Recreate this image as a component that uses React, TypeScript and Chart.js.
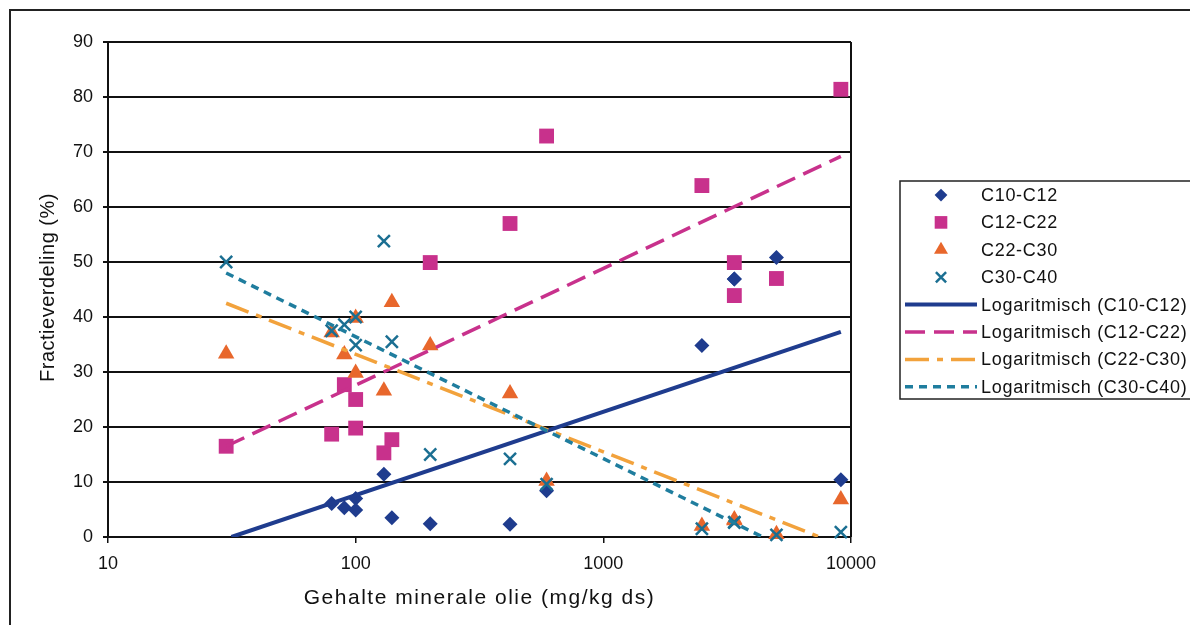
import React, { useEffect, useRef } from "react";
import { Chart, registerables } from "chart.js";
import { drawPoint } from "chart.js/helpers";

Chart.register(...registerables);

// ---- Data ----
const sampleX = [30, 80, 90, 100, 100, 130, 140, 200, 420, 590, 2500, 3380, 3380, 5000, 9100];
const c10c12 = [null, 6.1, 5.3, 7.0, 4.9, 11.4, 3.5, 2.4, 2.3, 8.4, 34.8, 46.9, 46.9, 50.8, 10.4];
const c12c22 = [16.5, 18.7, 27.7, 25.0, 19.8, 15.3, 17.7, 49.9, 57.0, 72.9, 63.9, 49.9, 43.9, 47.0, 81.4];
const c22c30 = [33.3, 37.2, 33.2, 29.8, 39.8, 26.6, 42.7, 34.8, 26.1, 10.2, 2.0, 3.2, 3.0, 0.5, 6.8];
const c30c40 = [50.0, 37.5, 38.6, 40.0, 34.9, 53.8, 35.5, 15.0, 14.2, 9.6, 1.5, 2.7, 2.6, 0.4, 0.9];

// Logarithmic trend lines (straight on a log x axis): start and end points
const trendC10X = [31.5, 9100];
const trendC10Y = [0, 37.3];
const trendC12X = [30, 9100];
const trendC12Y = [16.5, 69.2];
const trendC22X = [30, 7480];
const trendC22Y = [42.5, 0];
const trendC30X = [30, 4400];
const trendC30Y = [48, 0];

const xTicks = [10, 100, 1000, 10000];
const yMin = 0;
const yMax = 90;
const yStep = 10;

const seriesNames = ["C10-C12", "C12-C22", "C22-C30", "C30-C40"];
const trendNames = [
  "Logaritmisch (C10-C12)",
  "Logaritmisch (C12-C22)",
  "Logaritmisch (C22-C30)",
  "Logaritmisch (C30-C40)",
];
const xTitle = "Gehalte minerale olie (mg/kg ds)";
const yTitle = "Fractieverdeling (%)";

const FONT = "'Liberation Sans', Arial, sans-serif";
const NAVY = "#1f3c8e";
const MAGENTA = "#c8318c";
const ORANGE = "#e8672c";
const ORANGE_LINE = "#f2a23c";
const TEAL = "#1b6f92";
const TEAL_LINE = "#1f7d9e";

const pts = (xs: number[], ys: (number | null)[]) =>
  xs.map((x, i) => ({ x, y: ys[i] })).filter((p) => p.y !== null);

const framePlugin = {
  id: "framePlugin",
  afterDraw(chart: any) {
    const ctx = chart.ctx;
    const area = chart.chartArea;
    ctx.save();
    // outer frame (left + top visible)
    ctx.strokeStyle = "#222";
    ctx.lineWidth = 2;
    ctx.beginPath();
    ctx.moveTo(10, 630);
    ctx.lineTo(10, 10);
    ctx.lineTo(1200, 10);
    ctx.stroke();
    // plot right border
    ctx.strokeStyle = "#111";
    ctx.beginPath();
    ctx.moveTo(area.right, area.top);
    ctx.lineTo(area.right, area.bottom);
    ctx.stroke();

    // axis titles
    ctx.fillStyle = "#111";
    ctx.textAlign = "center";
    ctx.textBaseline = "middle";
    (ctx as any).letterSpacing = "1.5px";
    ctx.font = `21px ${FONT}`;
    ctx.fillText(xTitle, (area.left + area.right) / 2, 598);
    ctx.translate(48, (area.top + area.bottom) / 2 - 2);
    ctx.rotate(-Math.PI / 2);
    (ctx as any).letterSpacing = "0.5px";
    ctx.font = `20px ${FONT}`;
    ctx.fillText(yTitle, 0, 0);
    ctx.restore();

    // legend
    ctx.save();
    ctx.strokeStyle = "#222";
    ctx.lineWidth = 1.5;
    ctx.strokeRect(900, 181, 320, 218);
    const ds = chart.data.datasets;
    const rowY0 = 195;
    const rowStep = 27.4;
    ctx.font = `18px ${FONT}`;
    (ctx as any).letterSpacing = "0.7px";
    ctx.textBaseline = "middle";
    ctx.textAlign = "left";
    for (let i = 0; i < ds.length; i++) {
      const d = ds[i];
      const y = rowY0 + i * rowStep;
      if (d.showLine) {
        ctx.save();
        ctx.strokeStyle = d.borderColor;
        ctx.lineWidth = d.borderWidth;
        ctx.setLineDash(d.borderDash || []);
        ctx.beginPath();
        ctx.moveTo(905, y);
        ctx.lineTo(977, y);
        ctx.stroke();
        ctx.restore();
      } else {
        ctx.save();
        ctx.fillStyle = d.backgroundColor;
        ctx.strokeStyle = d.borderColor;
        ctx.lineWidth = d.pointBorderWidth;
        drawPoint(
          ctx,
          {
            pointStyle: d.pointStyle,
            rotation: 0,
            borderWidth: d.pointBorderWidth,
            radius: d.pointRadius * 0.85,
          },
          941,
          y
        );
        ctx.restore();
      }
      ctx.fillStyle = "#111";
      ctx.fillText(d.label, 981, y + 1);
    }
    ctx.restore();
  },
};

export default function App() {
  const ref = useRef<HTMLCanvasElement | null>(null);

  useEffect(() => {
    document.body.style.margin = "0";
    Chart.defaults.font.family = FONT;
    const canvas = ref.current!;
    const chart = new Chart(canvas, {
      type: "scatter",
      data: {
        datasets: [
          {
            label: seriesNames[0],
            data: pts(sampleX, c10c12),
            pointStyle: "rectRot",
            pointRadius: 7.5,
            pointBorderWidth: 0,
            backgroundColor: NAVY,
            borderColor: NAVY,
            showLine: false,
            clip: false,
            order: 7,
          },
          {
            label: seriesNames[1],
            data: pts(sampleX, c12c22),
            pointStyle: "rect",
            pointRadius: 10.5,
            pointBorderWidth: 0,
            backgroundColor: MAGENTA,
            borderColor: MAGENTA,
            showLine: false,
            clip: false,
            order: 6,
          },
          {
            label: seriesNames[2],
            data: pts(sampleX, c22c30),
            pointStyle: "triangle",
            pointRadius: 9.5,
            pointBorderWidth: 0,
            backgroundColor: ORANGE,
            borderColor: ORANGE,
            showLine: false,
            clip: false,
            order: 5,
          },
          {
            label: seriesNames[3],
            data: pts(sampleX, c30c40),
            pointStyle: "crossRot",
            pointRadius: 8.5,
            pointBorderWidth: 2.5,
            backgroundColor: TEAL,
            borderColor: TEAL,
            showLine: false,
            clip: false,
            order: 4,
          },
          {
            label: trendNames[0],
            data: pts(trendC10X, trendC10Y),
            showLine: true,
            borderColor: NAVY,
            borderWidth: 4,
            pointRadius: 0,
            order: 3,
          },
          {
            label: trendNames[1],
            data: pts(trendC12X, trendC12Y),
            showLine: true,
            borderColor: MAGENTA,
            borderWidth: 3.5,
            borderDash: [20, 9],
            pointRadius: 0,
            order: 2,
          },
          {
            label: trendNames[2],
            data: pts(trendC22X, trendC22Y),
            showLine: true,
            borderColor: ORANGE_LINE,
            borderWidth: 3.5,
            borderDash: [24, 8, 6, 8],
            pointRadius: 0,
            order: 1,
          },
          {
            label: trendNames[3],
            data: pts(trendC30X, trendC30Y),
            showLine: true,
            borderColor: TEAL_LINE,
            borderWidth: 3.5,
            borderDash: [8, 6],
            pointRadius: 0,
            order: 0,
          },
        ] as any,
      },
      options: {
        animation: false,
        responsive: false,
        devicePixelRatio: 1,
        layout: { padding: { left: 0, right: 339, top: 42, bottom: 0 } },
        plugins: { legend: { display: false }, tooltip: { enabled: false } },
        scales: {
          x: {
            type: "logarithmic",
            min: xTicks[0],
            max: xTicks[xTicks.length - 1],
            afterBuildTicks: (s: any) => {
              s.ticks = xTicks.map((v) => ({ value: v }));
            },
            afterFit: (s: any) => {
              s.height = 88;
            },
            ticks: {
              callback: (v: any) => String(v),
              font: { size: 18, family: FONT },
              color: "#111",
              padding: 10,
              maxRotation: 0,
              autoSkip: false,
            },
            grid: {
              display: true,
              drawOnChartArea: false,
              drawTicks: true,
              tickLength: 6,
              color: "#111",
              lineWidth: 1.5,
            },
            border: { display: true, color: "#111", width: 2 },
          },
          y: {
            min: yMin,
            max: yMax,
            afterFit: (s: any) => {
              s.width = 108;
            },
            ticks: {
              stepSize: yStep,
              font: { size: 18, family: FONT },
              color: "#111",
              padding: 10,
            },
            grid: { color: "#111", lineWidth: 2, tickLength: 5 },
            border: { display: true, color: "#111", width: 2 },
          },
        },
      },
      plugins: [framePlugin],
    });
    return () => chart.destroy();
  }, []);

  return (
    <canvas
      ref={ref}
      width={1190}
      height={625}
      style={{ display: "block", width: 1190, height: 625, background: "#fff" }}
    />
  );
}
